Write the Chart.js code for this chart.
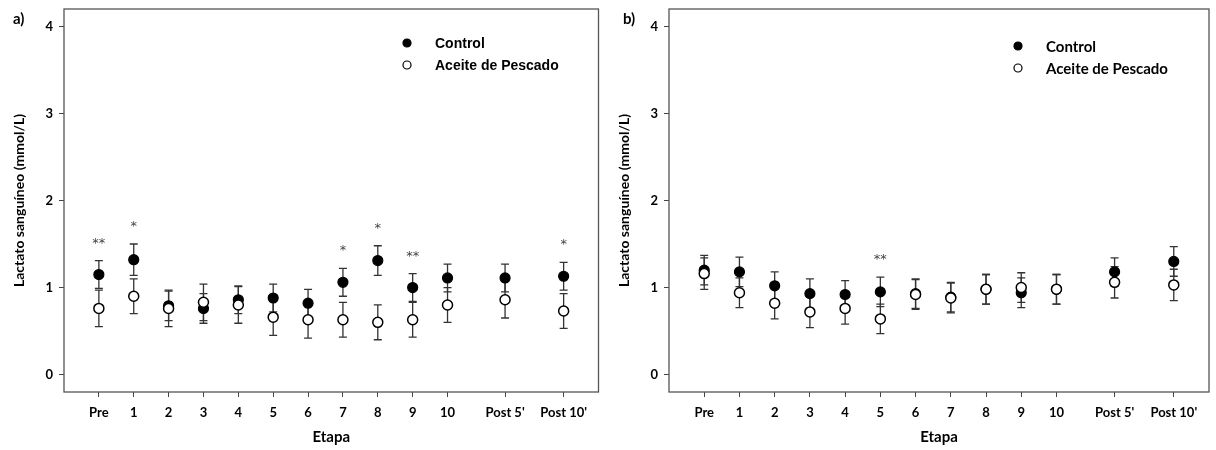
<!DOCTYPE html>
<html>
<head>
<meta charset="utf-8">
<script src="https://cdn.jsdelivr.net/npm/chart.js@4/dist/chart.umd.min.js"></script>
<style>
  body { margin: 0; background: #fff; }
  .panel { position: absolute; top: 0; }
  #panelA { left: 0; }
  #panelB { left: 605px; }
</style>
</head>
<body>
<canvas id="panelA" class="panel" width="605" height="450"></canvas>
<canvas id="panelB" class="panel" width="611" height="450"></canvas>
<script>
// Stages (x position of each stage on the axis)
const stages = ['Pre', '1', '2', '3', '4', '5', '6', '7', '8', '9', '10', "Post 5'", "Post 10'"];
const stageX = [0, 1, 2, 3, 4, 5, 6, 7, 8, 9, 10, 11.65, 13.33];
const yTicks = [0, 1, 2, 3, 4];

// Panel a) means and standard errors, mmol/L
const controlA = [1.15, 1.32, 0.79, 0.76, 0.86, 0.88, 0.82, 1.06, 1.31, 1.00, 1.11, 1.11, 1.13];
const controlErrA = [0.16, 0.18, 0.17, 0.17, 0.16, 0.16, 0.16, 0.16, 0.17, 0.16, 0.16, 0.16, 0.16];
const fishOilA = [0.76, 0.90, 0.76, 0.83, 0.80, 0.66, 0.63, 0.63, 0.60, 0.63, 0.80, 0.86, 0.73];
const fishOilErrA = [0.21, 0.20, 0.21, 0.21, 0.21, 0.21, 0.21, 0.20, 0.20, 0.20, 0.20, 0.21, 0.20];
const sigA = ['**', '*', '', '', '', '', '', '*', '*', '**', '', '', '*'];

// Panel b)
const controlB = [1.20, 1.18, 1.02, 0.93, 0.92, 0.95, 0.93, 0.89, 0.98, 0.94, 0.98, 1.18, 1.30];
const controlErrB = [0.17, 0.17, 0.16, 0.17, 0.16, 0.17, 0.17, 0.17, 0.17, 0.17, 0.17, 0.16, 0.17];
const fishOilB = [1.16, 0.94, 0.82, 0.72, 0.76, 0.64, 0.92, 0.88, 0.98, 1.00, 0.98, 1.06, 1.03];
const fishOilErrB = [0.18, 0.17, 0.18, 0.18, 0.18, 0.17, 0.17, 0.17, 0.17, 0.17, 0.17, 0.18, 0.18];
const sigB = ['', '', '', '', '', '**', '', '', '', '', '', '', ''];

const seriesNames = ['Control', 'Aceite de Pescado'];

const tickFont = { family: 'Lato', size: 13, weight: 'bold' };

function toPoints(values, errs) {
  return values.map((v, i) => ({ x: stageX[i], y: v, err: errs[i] }));
}

// Error bars, frame, significance marks, legend and panel letter
const decorations = {
  id: 'decorations',
  beforeDatasetsDraw(chart) {
    const ctx = chart.ctx;
    const xs = chart.scales.x, ys = chart.scales.y;
    ctx.save();
    ctx.strokeStyle = '#333';
    ctx.lineWidth = 1.3;
    chart.data.datasets.forEach(ds => {
      ds.data.forEach(p => {
        const x = xs.getPixelForValue(p.x);
        const top = ys.getPixelForValue(p.y + p.err);
        const bot = ys.getPixelForValue(p.y - p.err);
        ctx.beginPath();
        ctx.moveTo(x, top); ctx.lineTo(x, bot);
        ctx.moveTo(x - 4, top); ctx.lineTo(x + 4, top);
        ctx.moveTo(x - 4, bot); ctx.lineTo(x + 4, bot);
        ctx.stroke();
      });
    });
    ctx.restore();
  },
  afterDraw(chart, args, opts) {
    const ctx = chart.ctx;
    const area = chart.chartArea;
    const xs = chart.scales.x, ys = chart.scales.y;
    ctx.save();
    ctx.strokeStyle = '#555';
    ctx.lineWidth = 1.3;
    ctx.strokeRect(area.left, area.top, area.right - area.left, area.bottom - area.top);

    // significance stars above the control bars
    const ctrl = chart.data.datasets[0].data;
    ctx.fillStyle = '#444';
    ctx.font = '13px "DejaVu Sans"';
    ctx.textAlign = 'center';
    ctx.textBaseline = 'alphabetic';
    opts.sig.forEach((s, i) => {
      if (!s) return;
      const p = ctrl[i];
      ctx.fillText(s, xs.getPixelForValue(p.x), ys.getPixelForValue(p.y + p.err) - 14);
    });

    // legend
    const lx = area.left + opts.legendX;
    const ly = area.top + opts.legendY;
    ctx.font = opts.legendFont;
    ctx.textAlign = 'left';
    ctx.textBaseline = 'middle';
    chart.data.datasets.forEach((ds, i) => {
      const y = ly + i * 22;
      ctx.beginPath();
      ctx.arc(lx, y, 4, 0, Math.PI * 2);
      ctx.fillStyle = ds.backgroundColor;
      ctx.fill();
      ctx.lineWidth = 1.2;
      ctx.strokeStyle = '#000';
      ctx.stroke();
      ctx.fillStyle = '#000';
      ctx.fillText(ds.label, lx + 28, y + 1);
    });

    // panel letter
    ctx.font = 'bold 15px Lato';
    ctx.fillText(opts.letter, opts.letterX, 19);
    ctx.restore();
  }
};

function buildChart(id, control, controlErr, fishOil, fishOilErr, extra) {
  return new Chart(document.getElementById(id), {
    type: 'scatter',
    data: {
      datasets: [
        {
          label: seriesNames[0],
          data: toPoints(control, controlErr),
          backgroundColor: '#000',
          borderColor: '#000',
          borderWidth: 1.2,
          pointRadius: 5,
          order: 1
        },
        {
          label: seriesNames[1],
          data: toPoints(fishOil, fishOilErr),
          backgroundColor: '#fff',
          borderColor: '#000',
          borderWidth: 1.5,
          pointRadius: 5,
          order: 0
        }
      ]
    },
    options: {
      responsive: false,
      animation: false,
      layout: { padding: { top: 9, right: extra.padRight, left: 0, bottom: 0 } },
      plugins: {
        legend: { display: false },
        tooltip: { enabled: false },
        decorations: extra
      },
      scales: {
        x: {
          type: 'linear',
          min: -1,
          max: 14.33,
          afterBuildTicks: scale => { scale.ticks = stageX.map(v => ({ value: v })); },
          afterFit: scale => {
            scale.height = 58;
            scale.paddingLeft = 0;
            scale.paddingRight = 0;
          },
          ticks: {
            autoSkip: false,
            maxRotation: 0,
            padding: 8,
            color: '#000',
            font: tickFont,
            callback: (value, index) => stages[index]
          },
          grid: { drawOnChartArea: false, tickLength: 5, color: '#444' },
          border: { display: false },
          title: {
            display: true,
            text: 'Etapa',
            color: '#000',
            font: { family: 'Lato', size: 15, weight: 'bold' },
            padding: { top: 0, bottom: 4 }
          }
        },
        y: {
          min: -0.2,
          max: 4.2,
          afterBuildTicks: scale => { scale.ticks = yTicks.map(v => ({ value: v })); },
          afterFit: scale => {
            scale.width = 64;
            scale.paddingTop = 0;
            scale.paddingBottom = 0;
          },
          ticks: { padding: 6, color: '#000', font: tickFont },
          grid: { drawOnChartArea: false, tickLength: 5, color: '#444' },
          border: { display: false },
          title: {
            display: true,
            text: 'Lactato sanguíneo (mmol/L)',
            color: '#000',
            font: { family: 'Lato', size: 14, weight: 'bold' },
            padding: { top: 11, bottom: 0 }
          }
        }
      }
    },
    plugins: [decorations]
  });
}

buildChart('panelA', controlA, controlErrA, fishOilA, fishOilErrA, {
  sig: sigA, padRight: 5, letter: 'a)', letterX: 13,
  legendX: 343, legendY: 34,
  legendFont: 'bold 14px "Liberation Sans"'
});

buildChart('panelB', controlB, controlErrB, fishOilB, fishOilErrB, {
  sig: sigB, padRight: 7, letter: 'b)', letterX: 18,
  legendX: 349, legendY: 37,
  legendFont: 'bold 15px Lato'
});
</script>
</body>
</html>
